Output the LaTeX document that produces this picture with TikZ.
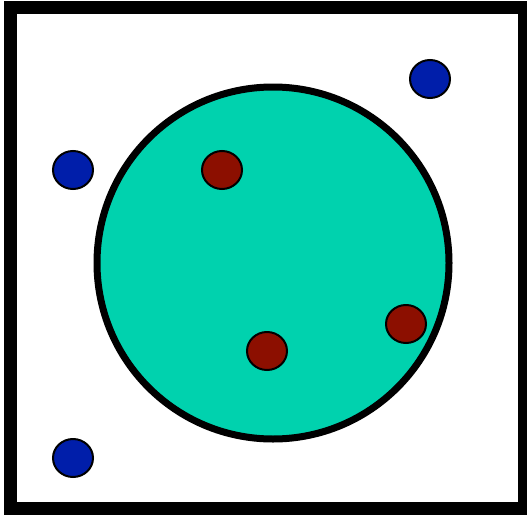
\documentclass[tikz,border=0pt]{standalone}
\usetikzlibrary{shapes.geometric}
\definecolor{poolteal}{RGB}{0,210,174}
\definecolor{outblue}{RGB}{0,30,170}
\definecolor{inred}{RGB}{140,15,0}
\tikzset{
  frame/.style={draw=black,line width=13pt},
  region/.style={circle,draw=black,fill=poolteal,line width=7pt,minimum size=352pt,inner sep=0pt},
  dot/.style={ellipse,draw=black,line width=2pt,minimum width=40pt,minimum height=38pt,inner sep=0pt},
  outside/.style={fill=outblue},
  inside/.style={fill=inred}
}

\begin{document}
\begin{tikzpicture}[x=1pt,y=-1pt]
  \useasboundingbox (0,0) rectangle (527,514);
  \draw[frame] (10.5,7.5) rectangle (524.5,508.5);
  \node[region] (disc) at (273,263) {};

  \node[dot,outside] (b1) at (73,170) {};
  \node[dot,outside] (b2) at (430,79) {};
  \node[dot,outside] (b3) at (73,458) {};

  \node[dot,inside] (r1) at (222,170) {};
  \node[dot,inside] (r2) at (267,351) {};
  \node[dot,inside] (r3) at (406,324) {};
\end{tikzpicture}
\end{document}
